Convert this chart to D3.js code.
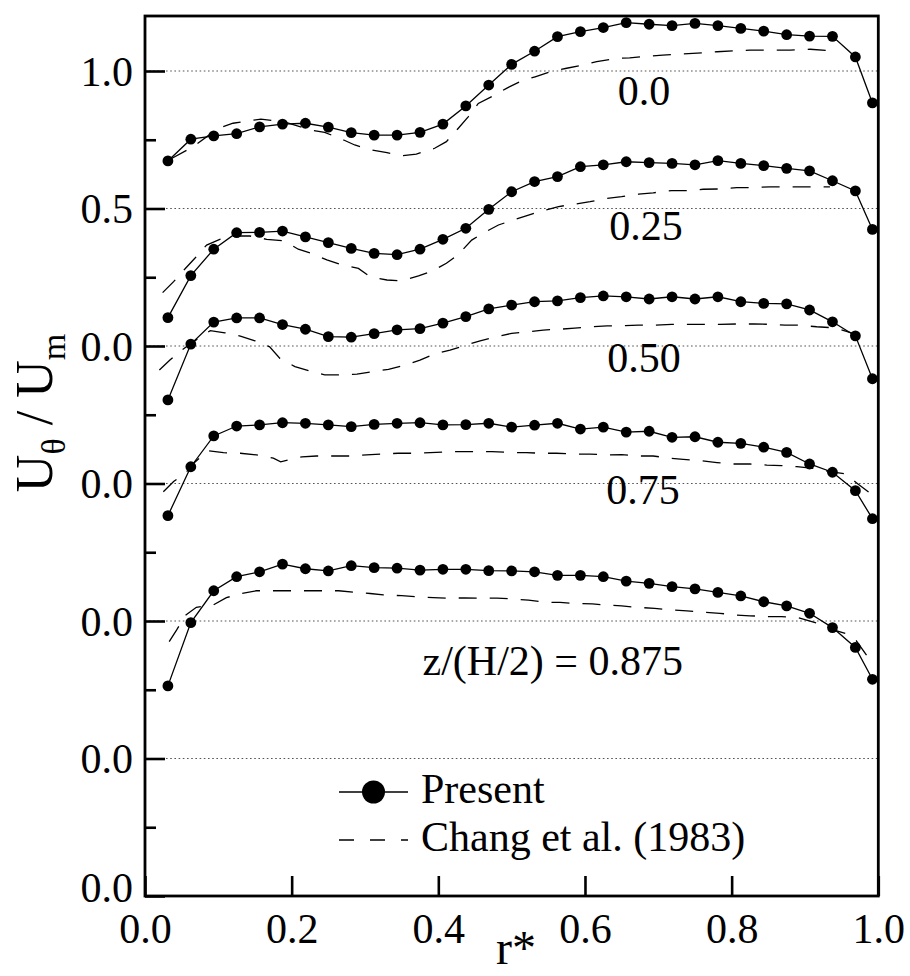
<!DOCTYPE html>
<html>
<head>
<meta charset="utf-8">
<script src="https://cdn.jsdelivr.net/npm/d3@7/dist/d3.min.js"></script>
<style>
  html, body { margin: 0; padding: 0; background: #fff; }
  svg { display: block; }
  text { font-family: "Liberation Serif", "Times New Roman", serif; fill: #000; }
</style>
</head>
<body>
<svg id="chart" width="910" height="976"></svg>
<script>
// ---------------- data ----------------
const rPresent = [0.03125, 0.0625, 0.09375, 0.125, 0.15625, 0.1875, 0.21875, 0.25,
  0.28125, 0.3125, 0.34375, 0.375, 0.40625, 0.4375, 0.46875, 0.5,
  0.53125, 0.5625, 0.59375, 0.625, 0.65625, 0.6875, 0.71875, 0.75,
  0.78125, 0.8125, 0.84375, 0.875, 0.90625, 0.9375, 0.96875, 0.992];

const presentZ000 = [0.673, 0.752, 0.764, 0.772, 0.797, 0.807, 0.810, 0.796, 0.776, 0.767, 0.767, 0.777, 0.807, 0.873, 0.949, 1.024,
  1.072, 1.125, 1.143, 1.158, 1.176, 1.170, 1.165, 1.173, 1.165, 1.155, 1.145, 1.132, 1.127, 1.126, 1.051, 0.884];
const presentZ025 = [0.603, 0.756, 0.852, 0.912, 0.913, 0.918, 0.897, 0.876, 0.855, 0.837, 0.832, 0.852, 0.888, 0.928, 0.997, 1.061,
  1.098, 1.116, 1.152, 1.159, 1.170, 1.167, 1.164, 1.159, 1.174, 1.164, 1.156, 1.146, 1.137, 1.101, 1.064, 0.924];
const presentZ050 = [0.804, 1.007, 1.087, 1.102, 1.102, 1.078, 1.061, 1.034, 1.032, 1.045, 1.059, 1.063, 1.083, 1.107, 1.135, 1.149,
  1.161, 1.164, 1.176, 1.182, 1.179, 1.171, 1.179, 1.171, 1.179, 1.161, 1.155, 1.153, 1.131, 1.088, 1.037, 0.881];
const presentZ075 = [0.883, 1.061, 1.173, 1.209, 1.213, 1.221, 1.219, 1.213, 1.207, 1.215, 1.219, 1.221, 1.213, 1.214, 1.219, 1.205,
  1.212, 1.219, 1.198, 1.205, 1.187, 1.190, 1.168, 1.170, 1.150, 1.146, 1.132, 1.113, 1.071, 1.041, 0.974, 0.872];
const presentZ0875 = [0.764, 0.994, 1.110, 1.161, 1.179, 1.207, 1.190, 1.182, 1.201, 1.194, 1.192, 1.185, 1.188, 1.188, 1.183, 1.182,
  1.179, 1.166, 1.166, 1.161, 1.145, 1.137, 1.125, 1.117, 1.104, 1.091, 1.070, 1.055, 1.028, 0.976, 0.904, 0.788];

const changR000 = [0.035, 0.066, 0.0995, 0.120, 0.158, 0.19, 0.227, 0.245, 0.271, 0.286, 0.309, 0.330, 0.352, 0.370, 0.395, 0.411,
  0.427, 0.441, 0.4545, 0.473, 0.493, 0.511, 0.532, 0.552, 0.575, 0.598, 0.616, 0.643, 0.661, 0.706, 0.747, 0.78, 0.825, 0.88, 0.907, 0.934, 0.945];
const changZ000 = [0.68, 0.725, 0.791, 0.810, 0.825, 0.815, 0.785, 0.777, 0.749, 0.731, 0.713, 0.703, 0.692, 0.698, 0.719, 0.743,
  0.791, 0.834, 0.882, 0.907, 0.937, 0.961, 0.979, 0.997, 1.010, 1.022, 1.034, 1.046, 1.048, 1.058, 1.064, 1.070, 1.076, 1.076, 1.079, 1.074, 1.068];

const changR025 = [0.024, 0.039, 0.055, 0.068, 0.084, 0.102, 0.120, 0.143, 0.166, 0.189, 0.209, 0.227, 0.248, 0.268, 0.291, 0.307,
  0.330, 0.350, 0.373, 0.393, 0.411, 0.427, 0.4455, 0.461, 0.482, 0.502, 0.523, 0.543, 0.564, 0.586, 0.607, 0.630, 0.65, 0.673,
  0.693, 0.718, 0.739, 0.761, 0.781, 0.807, 0.827, 0.852, 0.870, 0.893, 0.911, 0.934];
const changZ025 = [0.694, 0.734, 0.782, 0.819, 0.867, 0.888, 0.9, 0.9, 0.888, 0.883, 0.852, 0.837, 0.813, 0.795, 0.782, 0.752,
  0.740, 0.737, 0.755, 0.774, 0.801, 0.832, 0.885, 0.91, 0.94, 0.958, 0.976, 0.992, 1.007, 1.016, 1.025, 1.037, 1.043, 1.052,
  1.057, 1.065, 1.065, 1.07, 1.071, 1.076, 1.076, 1.079, 1.079, 1.079, 1.079, 1.079];

const changR050 = [0.0196, 0.034, 0.05, 0.064, 0.089, 0.109, 0.130, 0.150, 0.170, 0.184, 0.2045, 0.225, 0.245, 0.27, 0.289, 0.311,
  0.332, 0.355, 0.375, 0.395, 0.416, 0.434, 0.457, 0.48, 0.5, 0.523, 0.543, 0.566, 0.586, 0.611, 0.63, 0.652, 0.673, 0.695,
  0.718, 0.741, 0.761, 0.784, 0.807, 0.830, 0.850, 0.873, 0.89, 0.916, 0.94, 0.961, 0.977];
const changZ050 = [0.913, 0.949, 0.985, 1.012, 1.056, 1.048, 1.036, 1.019, 0.997, 0.955, 0.925, 0.909, 0.895, 0.895, 0.898, 0.907,
  0.915, 0.931, 0.949, 0.971, 0.985, 1.0, 1.019, 1.034, 1.046, 1.052, 1.058, 1.061, 1.065, 1.07, 1.073, 1.074, 1.076, 1.076,
  1.079, 1.079, 1.079, 1.079, 1.08, 1.08, 1.079, 1.076, 1.076, 1.07, 1.066, 1.05, 1.036];

const changR075 = [0.025, 0.039, 0.055, 0.066, 0.086, 0.107, 0.13, 0.152, 0.175, 0.185, 0.214, 0.234, 0.257, 0.28, 0.302, 0.323,
  0.345, 0.366, 0.389, 0.411, 0.432, 0.455, 0.473, 0.495, 0.52, 0.541, 0.561, 0.584, 0.607, 0.63, 0.65, 0.67, 0.693, 0.716,
  0.734, 0.757, 0.78, 0.80, 0.825, 0.848, 0.868, 0.889, 0.911, 0.934, 0.955, 0.970, 0.99];
const changZ075 = [0.97, 1.007, 1.037, 1.073, 1.119, 1.112, 1.110, 1.104, 1.092, 1.079, 1.097, 1.1, 1.1, 1.1, 1.104, 1.107,
  1.110, 1.110, 1.112, 1.115, 1.116, 1.116, 1.116, 1.113, 1.112, 1.11, 1.11, 1.107, 1.107, 1.104, 1.105, 1.1, 1.1, 1.092,
  1.088, 1.083, 1.076, 1.071, 1.071, 1.067, 1.065, 1.061, 1.055, 1.043, 1.035, 1.003, 0.962];

const changR0875 = [0.033, 0.043, 0.055, 0.07, 0.093, 0.111, 0.132, 0.152, 0.18, 0.2, 0.225, 0.245, 0.264, 0.284, 0.307, 0.325,
  0.35, 0.37, 0.393, 0.414, 0.436, 0.459, 0.48, 0.502, 0.523, 0.545, 0.566, 0.584, 0.61, 0.627, 0.65, 0.67, 0.695, 0.718,
  0.739, 0.761, 0.784, 0.805, 0.825, 0.848, 0.868, 0.89, 0.914, 0.932, 0.957, 0.970, 0.986];
const changZ0875 = [0.925, 0.967, 1.02, 1.05, 1.058, 1.085, 1.1, 1.11, 1.11, 1.11, 1.11, 1.11, 1.11, 1.105, 1.1, 1.095,
  1.092, 1.088, 1.085, 1.083, 1.084, 1.083, 1.083, 1.08, 1.076, 1.068, 1.068, 1.064, 1.062, 1.058, 1.055, 1.05, 1.046, 1.04,
  1.037, 1.032, 1.028, 1.022, 1.019, 1.016, 1.016, 1.013, 0.994, 0.973, 0.953, 0.928, 0.868];

const profileOffsets = [0.0, -0.5, -1.0, -1.5, -2.0];
const profileLabels = ["0.0", "0.25", "0.50", "0.75", "z/(H/2) = 0.875"];
const presentSeries = [presentZ000, presentZ025, presentZ050, presentZ075, presentZ0875];
const changRs = [changR000, changR025, changR050, changR075, changR0875];
const changSeries = [changZ000, changZ025, changZ050, changZ075, changZ0875];

const yTickValues = [1.0, 0.5, 0.0, -0.5, -1.0, -1.5, -2.0];
const yTickLabels = ["1.0", "0.5", "0.0", "0.0", "0.0", "0.0", "0.0"];
const yMinorTicks = [0.75, 0.25, -0.25, -0.75, -1.25, -1.75];
const gridValues = [1.0, 0.5, 0.0, -0.5, -1.0, -1.5];
const xTickValues = [0.0, 0.2, 0.4, 0.6, 0.8, 1.0];
const xTickLabels = ["0.0", "0.2", "0.4", "0.6", "0.8", "1.0"];
const legendLabels = ["Present", "Chang et al. (1983)"];

// ---------------- layout ----------------
const svg = d3.select("#chart");
const x = d3.scaleLinear().domain([0, 1]).range([145, 878.3]);
const y = d3.scaleLinear().domain([-2.0, 1.2]).range([896, 16]);
const FONT = 42;

// gridlines
svg.append("g").selectAll("line").data(gridValues).join("line")
  .attr("x1", x(0)).attr("x2", x(1))
  .attr("y1", d => y(d)).attr("y2", d => y(d))
  .attr("stroke", "#555").attr("stroke-width", 1.1)
  .attr("stroke-dasharray", "1.6,2.6");

// Chang dashed curves
const line = d3.line().x(d => x(d[0])).y(d => y(d[1]));
changSeries.forEach((vals, i) => {
  const pts = vals.map((v, j) => [changRs[i][j], v + profileOffsets[i]]);
  svg.append("path").attr("d", line(pts))
    .attr("fill", "none").attr("stroke", "#000").attr("stroke-width", 1.3)
    .attr("stroke-dasharray", "18,13");
});

// Present solid lines with markers
presentSeries.forEach((vals, i) => {
  const pts = vals.map((v, j) => [rPresent[j], v + profileOffsets[i]]);
  svg.append("path").attr("d", line(pts))
    .attr("fill", "none").attr("stroke", "#000").attr("stroke-width", 1.3);
  svg.append("g").selectAll("circle").data(pts).join("circle")
    .attr("cx", d => x(d[0])).attr("cy", d => y(d[1])).attr("r", 5.4)
    .attr("fill", "#000");
});

// profile labels
const labelPos = [
  {px: 644, py: 105, anchor: "middle"},
  {px: 646, py: 240, anchor: "middle"},
  {px: 644, py: 372, anchor: "middle"},
  {px: 643, py: 504, anchor: "middle"},
  {px: 683, py: 675, anchor: "end"}
];
profileLabels.forEach((t, i) => {
  svg.append("text").attr("x", labelPos[i].px).attr("y", labelPos[i].py)
    .attr("text-anchor", labelPos[i].anchor).attr("font-size", FONT).text(t);
});

// axes
const yAxis = d3.axisLeft(y).tickValues(yTickValues)
  .tickFormat((d, i) => yTickLabels[i]).tickSizeInner(-20).tickSizeOuter(0).tickPadding(12);
const gy = svg.append("g").attr("transform", `translate(${x(0)},0)`).call(yAxis);
gy.select(".domain").remove();
gy.selectAll(".tick line").attr("stroke", "#000").attr("stroke-width", 2.6);
gy.selectAll(".tick text").attr("font-size", FONT)
  .attr("font-family", '"Liberation Serif", "Times New Roman", serif').attr("dy", "0.34em");
gy.selectAll(".tick").filter(d => d === -2.0).select("text").attr("dy", "0.12em");

const yMinor = d3.axisLeft(y).tickValues(yMinorTicks).tickFormat("").tickSizeInner(-11).tickSizeOuter(0);
const gym = svg.append("g").attr("transform", `translate(${x(0)},0)`).call(yMinor);
gym.select(".domain").remove();
gym.selectAll(".tick line").attr("stroke", "#000").attr("stroke-width", 2.6);

const xAxis = d3.axisBottom(x).tickValues(xTickValues)
  .tickFormat((d, i) => xTickLabels[i]).tickSizeInner(-20).tickSizeOuter(0).tickPadding(17);
const gx = svg.append("g").attr("transform", `translate(0,${y(-2.0)})`).call(xAxis);
gx.select(".domain").remove();
gx.selectAll(".tick line").attr("stroke", "#000").attr("stroke-width", 2.6);
gx.selectAll(".tick text").attr("font-size", FONT)
  .attr("font-family", '"Liberation Serif", "Times New Roman", serif');

// frame
svg.append("rect").attr("x", x(0)).attr("y", y(1.2))
  .attr("width", x(1) - x(0)).attr("height", y(-2.0) - y(1.2))
  .attr("fill", "none").attr("stroke", "#000").attr("stroke-width", 2.8);

// axis titles
svg.append("text").attr("x", 516).attr("y", 964).attr("text-anchor", "middle")
  .attr("font-size", 48).text("r*");

const yt = svg.append("text").attr("transform", "translate(52,413) rotate(-90)")
  .attr("text-anchor", "middle").attr("font-size", 52);
yt.append("tspan").text("U");
yt.append("tspan").attr("font-size", 34).attr("dy", 13).text("θ");
yt.append("tspan").attr("dy", -13).text(" / U");
yt.append("tspan").attr("font-size", 34).attr("dy", 13).text("m");

// legend
const lg = svg.append("g");
lg.append("line").attr("x1", 339).attr("x2", 408).attr("y1", 792).attr("y2", 792)
  .attr("stroke", "#000").attr("stroke-width", 1.3);
lg.append("circle").attr("cx", 373.5).attr("cy", 792).attr("r", 11.5).attr("fill", "#000");
lg.append("text").attr("x", 421).attr("y", 803).attr("font-size", FONT).text(legendLabels[0]);
lg.append("line").attr("x1", 339).attr("x2", 408).attr("y1", 840).attr("y2", 840)
  .attr("stroke", "#000").attr("stroke-width", 1.3).attr("stroke-dasharray", "15,16");
lg.append("text").attr("x", 421).attr("y", 851).attr("font-size", FONT).text(legendLabels[1]);
</script>
</body>
</html>
